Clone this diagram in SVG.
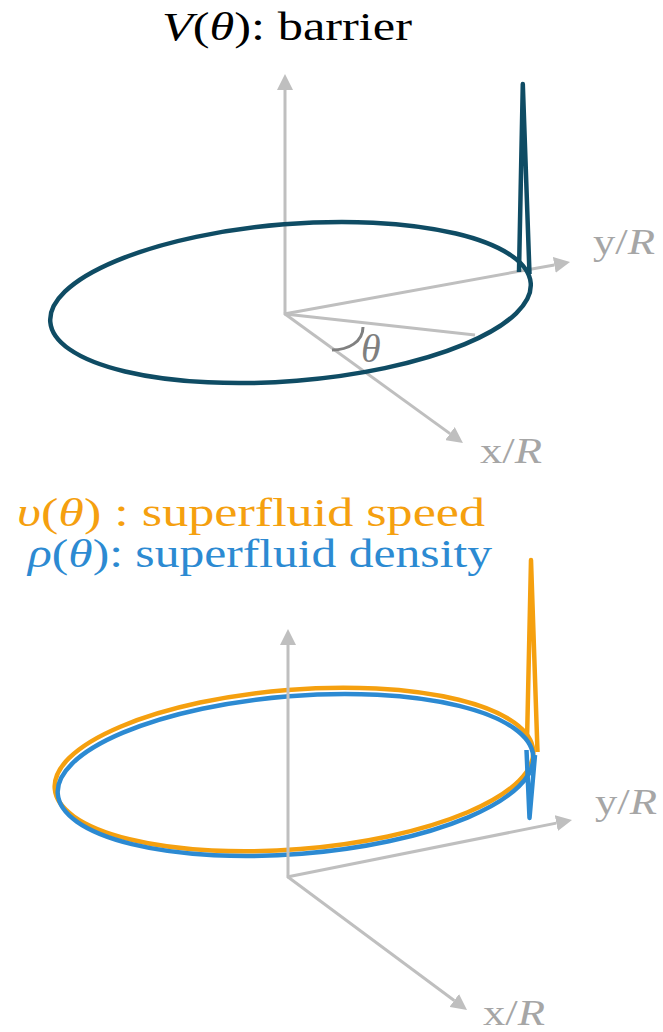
<svg xmlns="http://www.w3.org/2000/svg" width="663" height="1032" viewBox="0 0 663 1032">
<style>
.ax{stroke:#bfbfbf;stroke-width:3;fill:none}
.lab{font-family:"Liberation Serif",serif;fill:#a6a6a6;font-size:35px}
.it{font-style:italic}
.ttl{font-family:"Liberation Serif",serif;font-size:41px}
</style>
<defs>
<marker id="ah" viewBox="0 0 16 16" refX="0" refY="8" markerWidth="16" markerHeight="16" markerUnits="userSpaceOnUse" orient="auto">
<path d="M0,0 L16,8 L0,16 z" fill="#bfbfbf"/>
</marker>
</defs>
<rect width="663" height="1032" fill="#ffffff"/>

<g id="title-top">
<text class="ttl" x="162" y="40" fill="#000" textLength="250" lengthAdjust="spacingAndGlyphs"><tspan class="it">V</tspan>(<tspan class="it">θ</tspan>): barrier</text>
</g>

<g id="connectors">
<line class="ax" x1="285" y1="315" x2="285" y2="90" marker-end="url(#ah)"/>
<line class="ax" x1="284" y1="314" x2="554.3" y2="264.9" marker-end="url(#ah)"/>
<line class="ax" x1="285" y1="314" x2="450" y2="433.6" marker-end="url(#ah)"/>
<line class="ax" x1="285" y1="314" x2="475" y2="335"/>
</g>

<g id="ring-top">
<ellipse cx="290.5" cy="302.5" rx="241" ry="78.5" transform="rotate(-4.6 290.5 302.5)" fill="none" stroke="#0f4c64" stroke-width="4.5"/>
<path d="M519,272 L522.8,84 L529.5,274" fill="none" stroke="#0f4c64" stroke-width="4.5" stroke-linejoin="round"/>
</g>

<g id="theta">
<path d="M332,350 C348,350 363,342 363,327" fill="none" stroke="#808080" stroke-width="3"/>
<text class="lab it" x="361" y="362" style="fill:#7f7f7f;font-size:40px">θ</text>
</g>

<g id="labels-top">
<text class="lab" x="593" y="254" textLength="62" lengthAdjust="spacingAndGlyphs">y/<tspan class="it">R</tspan></text>
<text class="lab" x="480" y="463" textLength="62" lengthAdjust="spacingAndGlyphs">x/<tspan class="it">R</tspan></text>
</g>

<g id="title-bottom">
<text class="ttl" x="17" y="526" fill="#f5a00f" textLength="468" lengthAdjust="spacingAndGlyphs"><tspan class="it">υ</tspan>(<tspan class="it">θ</tspan>) : superfluid speed</text>
<text class="ttl" x="28" y="567" fill="#2c8ad2" textLength="464" lengthAdjust="spacingAndGlyphs"><tspan class="it">ρ</tspan>(<tspan class="it">θ</tspan>): superfluid density</text>
</g>

<g id="ring-bottom">
<ellipse cx="294" cy="769.5" rx="240" ry="79.8" transform="rotate(-4.55 294 769.5)" fill="none" stroke="#f5a00f" stroke-width="4.5"/>
<path d="M527,741 L531,560 L537.5,752" fill="none" stroke="#f5a00f" stroke-width="4.5" stroke-linejoin="round"/>
<ellipse cx="295.5" cy="775" rx="238.5" ry="79" transform="rotate(-4.55 295.5 775)" fill="none" stroke="#2c8ad2" stroke-width="4.5"/>
<path d="M526.5,750 L529.5,818 L535,755" fill="none" stroke="#2c8ad2" stroke-width="4.5" stroke-linejoin="round"/>
</g>

<g id="connectors-bottom">
<line class="ax" x1="288" y1="878" x2="288" y2="645" marker-end="url(#ah)"/>
<line class="ax" x1="287" y1="877" x2="556.3" y2="823.1" marker-end="url(#ah)"/>
<line class="ax" x1="288" y1="877" x2="454.2" y2="1000.5" marker-end="url(#ah)"/>
</g>

<g id="labels-bottom">
<text class="lab" x="595" y="814" textLength="62" lengthAdjust="spacingAndGlyphs">y/<tspan class="it">R</tspan></text>
<text class="lab" x="483" y="1025" textLength="62" lengthAdjust="spacingAndGlyphs">x/<tspan class="it">R</tspan></text>
</g>
</svg>
